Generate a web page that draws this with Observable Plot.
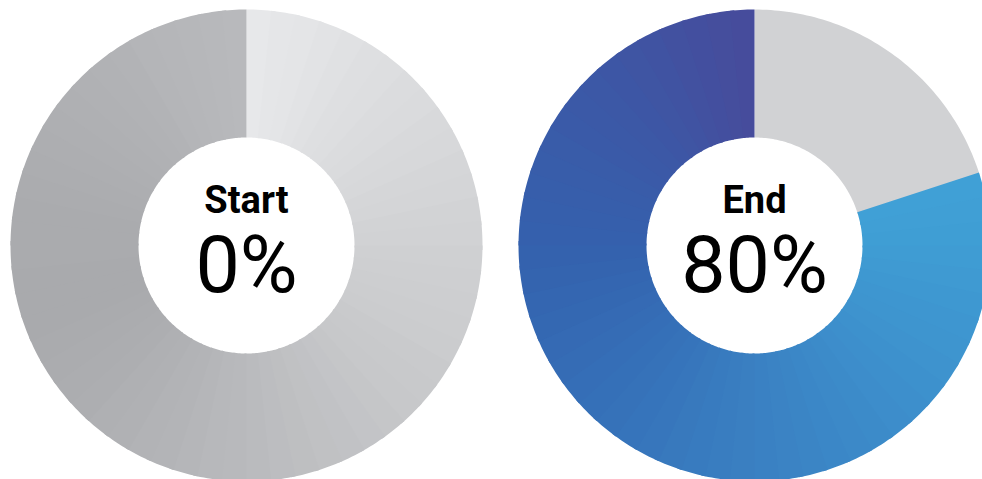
<!DOCTYPE html>
<html>
<head>
<meta charset="utf-8">
<script src="https://cdn.jsdelivr.net/npm/d3@7"></script>
<script src="https://cdn.jsdelivr.net/npm/@observablehq/plot@0.6"></script>
<style>
  html, body { margin: 0; padding: 0; background: #ffffff; }
  #chart svg { display: block; }
</style>
</head>
<body>
<div id="chart"></div>
<script>
// ---- data ----
const labels = ["Start", "End"];
const percents = [0, 80];

// gradient colour stops (position = fraction of the full circle, clockwise from 12 o'clock)
const grayStopPos = [0.00, 0.125, 0.25, 0.375, 0.50, 0.625, 0.70, 0.78, 0.875, 1.00];
const grayStopCol = ["#e8e9eb", "#dbdcde", "#d0d1d3", "#c7c8ca", "#b9babd", "#adaeb1", "#a9aaad", "#aaabae", "#b0b1b4", "#b9babd"];
const blueStopPos = [0.20, 0.25, 0.375, 0.50, 0.625, 0.75, 0.875, 1.00];
const blueStopCol = ["#40a1d6", "#3f9dd4", "#3d8fcc", "#3a80c2", "#3570b8", "#3461ad", "#3c58a6", "#474b9b"];
const trackColor = "#d1d2d4";

// ---- layout ----
const W = 982, H = 479;
const centerX = [246, 754];
const centerY = 245;
const rOuter = 236, rInner = 108;
const overlap = 0.003; // small overlap between neighbouring slices to hide seams

const grayScale = d3.scaleLinear().domain(grayStopPos).range(grayStopCol).interpolate(d3.interpolateRgb);
const blueScale = d3.scaleLinear().domain(blueStopPos).range(blueStopCol).interpolate(d3.interpolateRgb);

const pts = [];
let sid = 0;
function slice(cx, f0, f1, color) {
  const id = sid++;
  const steps = Math.max(2, Math.ceil((f1 - f0) * 360));
  for (let k = 0; k <= steps; k++) {
    const a = 2 * Math.PI * (f0 + (f1 - f0) * k / steps);
    pts.push({id, color, x: cx + rOuter * Math.sin(a), y: centerY - rOuter * Math.cos(a)});
  }
  for (let k = steps; k >= 0; k--) {
    const a = 2 * Math.PI * (f0 + (f1 - f0) * k / steps);
    pts.push({id, color, x: cx + rInner * Math.sin(a), y: centerY - rInner * Math.cos(a)});
  }
}

labels.forEach((lab, i) => {
  const p = percents[i] / 100;
  const cx = centerX[i];
  const start = 1 - p; // value arc ends at 12 o'clock
  if (i === 0) {
    const n = 60;
    for (let j = 0; j < n; j++) {
      const f0 = start * j / n, f1 = start * (j + 1) / n;
      slice(cx, f0, j < n - 1 ? f1 + overlap : f1, grayScale((f0 + f1) / 2));
    }
  } else {
    if (start > 0) slice(cx, 0, start + (p > 0 ? overlap : 0), trackColor);
  }
  if (p > 0) {
    const n = Math.round(p * 60);
    for (let j = 0; j < n; j++) {
      const f0 = start + p * j / n, f1 = start + p * (j + 1) / n;
      slice(cx, f0, j < n - 1 ? f1 + overlap : f1, blueScale((f0 + f1) / 2));
    }
  }
});

const textData = labels.map((lab, i) => ({x: centerX[i], label: lab, pct: `${percents[i]}%`}));

const chart = Plot.plot({
  width: W,
  height: H,
  margin: 0,
  x: {domain: [0, W], axis: null},
  y: {domain: [H, 0], axis: null},
  style: {background: "#ffffff"},
  marks: [
    Plot.line(pts, {x: "x", y: "y", z: "id", fill: "color", stroke: null, curve: "linear-closed"}),
    Plot.text(textData, {x: "x", y: () => 212, text: "label", fontSize: 38, fontWeight: "bold", fontFamily: "Roboto", fill: "#000", lineAnchor: "bottom", textAnchor: "middle"}),
    Plot.text(textData, {x: "x", y: () => 291, text: "pct", fontSize: 79, fontWeight: "normal", fontFamily: "Roboto", fill: "#000", lineAnchor: "bottom", textAnchor: "middle"})
  ]
});
document.getElementById("chart").appendChild(chart);
</script>
</body>
</html>
